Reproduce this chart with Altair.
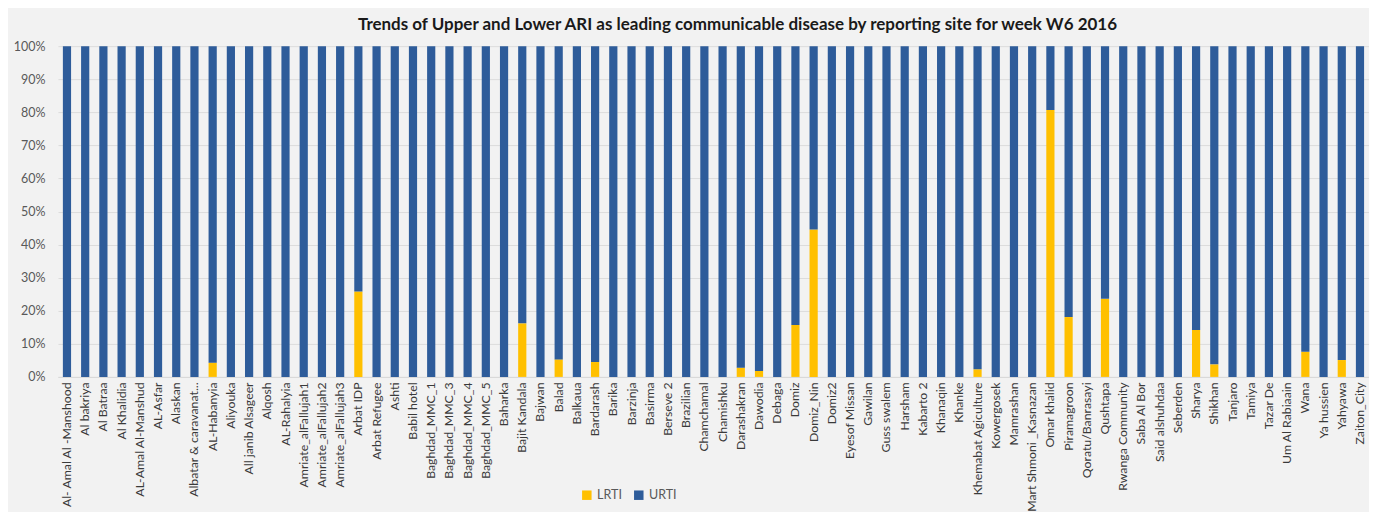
import altair as alt
import pandas as pd

sites = [
    "Al- Amal Al -Manshood", "Al bakriya", "Al Batraa", "Al Khalidia", "AL-Amal Al-Manshud",
    "AL-Asfar", "Alaskan", "Albatar & caravanat...", "AL-Habanyia", "Aliyouka",
    "All janib Alsageer", "Alqosh", "AL-Rahalyia", "Amriate_alFallujah1", "Amriate_alFallujah2",
    "Amriate_alFallujah3", "Arbat IDP", "Arbat Refugee", "Ashti", "Babil hotel",
    "Baghdad_MMC_1", "Baghdad_MMC_3", "Baghdad_MMC_4", "Baghdad_MMC_5", "Baharka",
    "Bajit Kandala", "Bajwan", "Balad", "Balkaua", "Bardarash",
    "Barika", "Barzinja", "Basirma", "Berseve 2", "Brazilian",
    "Chamchamal", "Chamishku", "Darashakran", "Dawodia", "Debaga",
    "Domiz", "Domiz_Nin", "Domiz2", "Eyesof Missan", "Gawilan",
    "Guss swalem", "Harsham", "Kabarto 2", "Khanaqin", "Khanke",
    "Khemabat Agiculture", "Kowergosek", "Mamrashan", "Mart Shmoni _Kasnazan", "Omar khalid",
    "Piramagroon", "Qoratu/Banrasayi", "Qushtapa", "Rwanga Community", "Saba Al Bor",
    "Said alshuhdaa", "Seberden", "Sharya", "Shikhan", "Tanjaro",
    "Tamiya", "Tazar De", "Um Al Rabiaain", "Wana", "Ya hussien",
    "Yahyawa", "Zaiton_City",
]

lrti_pct = [
    0, 0, 0, 0, 0,
    0, 0, 0, 4.3, 0,
    0, 0, 0, 0, 0,
    0, 25.8, 0, 0, 0,
    0, 0, 0, 0, 0,
    16.2, 0, 5.3, 0, 4.5,
    0, 0, 0, 0, 0,
    0, 0, 2.8, 1.8, 0,
    15.7, 44.6, 0, 0, 0,
    0, 0, 0, 0, 0,
    2.3, 0, 0, 0, 80.7,
    18.1, 0, 23.6, 0, 0,
    0, 0, 14.2, 3.8, 0,
    0, 0, 0, 7.6, 0,
    5.1, 0,
]

series = ["LRTI", "URTI"]
colors = ["#ffc000", "#2e5c9a"]

rows = []
for s, l in zip(sites, lrti_pct):
    rows.append({"site": s, "series": "LRTI", "share": l / 100.0, "ord": 0})
    rows.append({"site": s, "series": "URTI", "share": (100.0 - l) / 100.0, "ord": 1})
df = pd.DataFrame(rows)

font = "Lato"

chart = alt.Chart(df).mark_bar().encode(
    x=alt.X("site:N", sort=sites, title=None,
            scale=alt.Scale(paddingInner=0.55, paddingOuter=0.27),
            axis=alt.Axis(labelAngle=270, labelFontSize=12.3, labelColor="#3a3a3a",
                          labelFont=font, ticks=False, domain=True, domainColor="#d9d9d9",
                          labelPadding=5, labelOverlap=False, labelLimit=0)),
    y=alt.Y("share:Q", stack="zero", title=None,
            scale=alt.Scale(domain=[0, 1]),
            axis=alt.Axis(format=".0%", values=[0, 0.1, 0.2, 0.3, 0.4, 0.5, 0.6, 0.7, 0.8, 0.9, 1.0],
                          labelFontSize=12.5, labelColor="#595959", labelFont=font,
                          ticks=False, domain=False, gridColor="#dcdcdc", gridWidth=1,
                          labelPadding=13, minExtent=50, maxExtent=50)),
    color=alt.Color("series:N", scale=alt.Scale(domain=series, range=colors),
                    legend=alt.Legend(title=None, orient="none", legendX=523, legendY=443,
                                      direction="horizontal", symbolType="square",
                                      symbolSize=90, labelFontSize=12.5, labelColor="#595959",
                                      labelFont=font, columnPadding=10, symbolStrokeWidth=0)),
    order=alt.Order("ord:Q"),
).properties(
    width=1312,
    height=331,
    background="#f2f2f2",
    padding={"left": 0, "top": 8, "right": 0, "bottom": 0},
    title=alt.TitleParams(
        "Trends of Upper and Lower ARI as leading communicable disease by reporting site for week W6 2016",
        font=font, fontSize=17, fontWeight="bold", color="#1a1a1a", anchor="middle", offset=6, dx=24,
    ),
).configure_view(stroke=None, fill="#f2f2f2")

chart.save("out.html", embed_options={"renderer": "svg", "actions": False})
